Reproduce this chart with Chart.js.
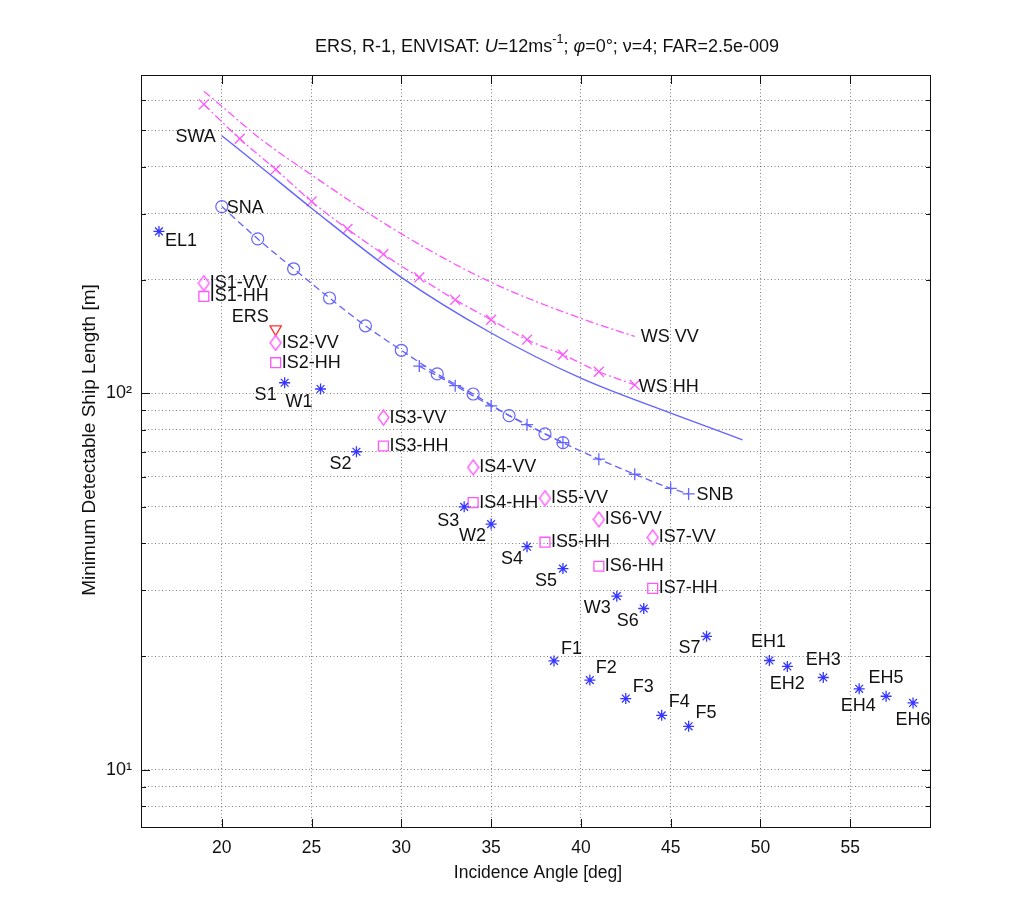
<!DOCTYPE html>
<html><head><meta charset="utf-8">
<script src="https://cdn.jsdelivr.net/npm/chart.js@4/dist/chart.umd.min.js"></script>
<style>html,body{margin:0;padding:0;background:#fff}</style>
</head><body>
<canvas id="c" width="1013" height="924"></canvas>
<script>
const FONT = '"Liberation Sans", Arial, sans-serif';

// ---- axes ----
const xTickValues = [20, 25, 30, 35, 40, 45, 50, 55];
const yGridValues = [8, 9, 10, 20, 30, 40, 50, 60, 70, 80, 90, 100, 200, 300, 400, 500, 600];
const yTickLabels = {10: '10\u00B9', 100: '10\u00B2'};

// ---- curves ----
const swaAngle  = [20, 22, 25, 30, 35, 40, 45, 49];
const swaLength = [483, 405, 310, 203, 144.5, 109.6, 88.5, 75.2];
const snaAngle  = [20, 22, 24, 26, 28, 30, 32, 34, 36, 38, 39];
const snaLength = [313, 257, 214, 179, 151, 130, 112.5, 99.5, 87.2, 78, 73.9];
const snbAngle  = [31, 33, 35, 37, 39, 41, 43, 45, 46];
const snbLength = [118, 104.7, 92.5, 82.5, 73.9, 66.8, 60.9, 55.9, 54.0];
const wsHHAngle  = [19, 21, 23, 25, 27, 29, 31, 33, 35, 37, 39, 41, 43];
const wsHHLength = [585, 474, 393, 323, 273, 234, 203, 177, 156.7, 138.7, 126.5, 114, 105.2];
const wsVVAngle  = [19, 20, 22, 25, 30, 35, 40, 43];
const wsVVLength = [634, 578, 480, 380, 265, 197, 158, 141.5];

// ---- individual modes ----
const starNames  = ['EL1','S1','W1','S2','S3','W2','S4','S5','W3','S6','S7','F1','F2','F3','F4','F5','EH1','EH2','EH3','EH4','EH5','EH6'];
const starAngle  = [16.5, 23.5, 25.5, 27.5, 33.5, 35, 37, 39, 42, 43.5, 47, 38.5, 40.5, 42.5, 44.5, 46, 50.5, 51.5, 53.5, 55.5, 57, 58.5];
const starLength = [269, 106.6, 102.6, 69.9, 49.9, 44.9, 39.1, 34.2, 28.9, 26.8, 22.6, 19.45, 17.3, 15.45, 13.94, 13.04, 19.5, 18.8, 17.57, 16.4, 15.67, 15.04];
const vvNames  = ['IS1-VV','IS2-VV','IS3-VV','IS4-VV','IS5-VV','IS6-VV','IS7-VV'];
const vvAngle  = [19, 23, 29, 34, 38, 41, 44];
const vvLength = [196, 136, 86.1, 63.5, 52.6, 46.2, 41.4];
const hhNames  = ['IS1-HH','IS2-HH','IS3-HH','IS4-HH','IS5-HH','IS6-HH','IS7-HH'];
const hhAngle  = [19, 23, 29, 34, 38, 41, 44];
const hhLength = [180.7, 120.5, 72.4, 51.2, 40.2, 34.7, 30.3];
const ersNames  = ['ERS'];
const ersAngle  = [23];
const ersLength = [148];

// ---- label placement (pixel offsets, style only) ----
const labelPlace = {
  'EL1':[6,10,'left'], 'SNA':[5,1,'left'], 'SWA':[-6,1,'right'], 'SNB':[8,1,'left'],
  'WS VV':[6,1,'left'], 'WS HH':[4,2,'left'], 'ERS':[-7,-12,'right'],
  'S1':[-8,12,'right'], 'W1':[-8,13,'right'], 'S2':[-5,12,'right'], 'S3':[-5,14,'right'],
  'W2':[-5,12,'right'], 'S4':[-4,12,'right'], 'S5':[-6,12,'right'], 'W3':[-6,12,'right'],
  'S6':[-5,13,'right'], 'S7':[-6,12,'right'],
  'F1':[7,-12,'left'], 'F2':[6,-12,'left'], 'F3':[7,-12,'left'], 'F4':[7,-13,'left'], 'F5':[7,-13,'left'],
  'EH1':[-1,-18,'center'], 'EH2':[0,18,'center'], 'EH3':[0,-17,'center'],
  'EH4':[-1,17,'center'], 'EH5':[0,-18,'center'], 'EH6':[0,17,'center']
};

const pts = (xs, ys) => xs.map((x, i) => ({x: x, y: ys[i]}));

const labelList = [];
starNames.forEach((n, i) => labelList.push([n, starAngle[i], starLength[i]]));
vvNames.forEach((n, i) => labelList.push([n, vvAngle[i], vvLength[i]]));
hhNames.forEach((n, i) => labelList.push([n, hhAngle[i], hhLength[i]]));
ersNames.forEach((n, i) => labelList.push([n, ersAngle[i], ersLength[i]]));
labelList.push(['SWA', swaAngle[0], swaLength[0]]);
labelList.push(['SNA', snaAngle[0], snaLength[0]]);
labelList.push(['SNB', snbAngle[snbAngle.length-1], snbLength[snbLength.length-1]]);
labelList.push(['WS VV', wsVVAngle[wsVVAngle.length-1], wsVVLength[wsVVLength.length-1]]);
labelList.push(['WS HH', wsHHAngle[wsHHAngle.length-1], wsHHLength[wsHHLength.length-1]]);

const BLUE_LINE = '#6464ff';
const BLUE_MARK = '#3636ff';
const MAG = '#ff55ff';

// tall diamond marker (MATLAB style)
const diamond = document.createElement('canvas');
diamond.width = 13; diamond.height = 17;
(function () {
  const g = diamond.getContext('2d');
  g.strokeStyle = MAG; g.lineWidth = 1.3;
  g.beginPath();
  g.moveTo(6.5, 1); g.lineTo(12, 8.5); g.lineTo(6.5, 16); g.lineTo(1, 8.5); g.closePath();
  g.stroke();
})();

const textPlugin = {
  id: 'texts',
  afterDatasetsDraw(chart) {
    const ctx = chart.ctx, xs = chart.scales.x, ys = chart.scales.y, ca = chart.chartArea;
    ctx.save();
    // frame
    ctx.strokeStyle = '#111'; ctx.lineWidth = 1; ctx.setLineDash([]);
    ctx.strokeRect(ca.left + 0.5, ca.top + 0.5, ca.right - ca.left - 1, ca.bottom - ca.top - 1);
    // inward ticks
    ctx.beginPath();
    xTickValues.forEach(v => {
      const px = Math.round(xs.getPixelForValue(v)) + 0.5;
      ctx.moveTo(px, ca.bottom); ctx.lineTo(px, ca.bottom - 9);
      ctx.moveTo(px, ca.top); ctx.lineTo(px, ca.top + 9);
    });
    yGridValues.forEach(v => {
      const py = Math.round(ys.getPixelForValue(v)) + 0.5;
      const len = (v === 10 || v === 100) ? 9 : 5;
      ctx.moveTo(ca.left, py); ctx.lineTo(ca.left + len, py);
      ctx.moveTo(ca.right, py); ctx.lineTo(ca.right - len, py);
    });
    ctx.stroke();
    // point labels
    ctx.fillStyle = '#111';
    ctx.font = '18px ' + FONT;
    ctx.textBaseline = 'middle';
    labelList.forEach(([name, x, y]) => {
      const p = labelPlace[name] || [6, 0, 'left'];
      ctx.textAlign = p[2];
      ctx.fillText(name, xs.getPixelForValue(x) + p[0], ys.getPixelForValue(y) + p[1]);
    });
    // axis titles
    ctx.textAlign = 'center';
    ctx.font = '17.5px ' + FONT;
    ctx.fillText('Incidence Angle [deg]', 538, 873);
    ctx.save();
    ctx.translate(90, 440);
    ctx.rotate(-Math.PI / 2);
    ctx.font = '19px ' + FONT;
    ctx.fillText('Minimum Detectable Ship Length [m]', 0, 0);
    ctx.restore();
    // title with mixed styles
    const segs = [
      ['ERS, R-1, ENVISAT: ', 'normal', 18, 0],
      ['U', 'italic', 18, 0],
      ['=12ms', 'normal', 18, 0],
      ['-1', 'normal', 12.5, -7],
      ['; ', 'normal', 18, 0],
      ['\u03C6', 'italic', 18, 0],
      ['=0\u00B0; ', 'normal', 18, 0],
      ['\u03BD', 'normal', 18, 0],
      ['=4; FAR=2.5e-009', 'normal', 18, 0]
    ];
    let total = 0;
    segs.forEach(s => { ctx.font = s[1] + ' ' + s[2] + 'px ' + FONT; total += ctx.measureText(s[0]).width; });
    let cx = 547 - total / 2;
    ctx.textAlign = 'left';
    segs.forEach(s => {
      ctx.font = s[1] + ' ' + s[2] + 'px ' + FONT;
      ctx.fillText(s[0], cx, 47 + s[3]);
      cx += ctx.measureText(s[0]).width;
    });
    ctx.restore();
  }
};

const whiteBg = {
  id: 'bg',
  beforeDraw(chart) {
    const ctx = chart.ctx;
    ctx.save(); ctx.fillStyle = '#fff'; ctx.fillRect(0, 0, chart.width, chart.height); ctx.restore();
  }
};

new Chart(document.getElementById('c'), {
  type: 'scatter',
  data: {
    datasets: [
      { label: 'SWA', data: pts(swaAngle, swaLength), showLine: true, pointRadius: 0,
        borderColor: BLUE_LINE, borderWidth: 1.4, cubicInterpolationMode: 'monotone', fill: false },
      { label: 'SNA', data: pts(snaAngle, snaLength), showLine: true, borderDash: [7, 4],
        borderColor: BLUE_LINE, borderWidth: 1.3, pointStyle: 'circle', pointRadius: 6,
        pointBorderColor: BLUE_LINE, pointBackgroundColor: 'rgba(0,0,0,0)', pointBorderWidth: 1.2,
        cubicInterpolationMode: 'monotone' },
      { label: 'SNB', data: pts(snbAngle, snbLength), showLine: true, borderDash: [7, 4],
        borderColor: BLUE_LINE, borderWidth: 1.3, pointStyle: 'cross', pointRadius: 6,
        pointBorderColor: BLUE_LINE, pointBorderWidth: 1.3, cubicInterpolationMode: 'monotone' },
      { label: 'WS HH', data: pts(wsHHAngle, wsHHLength), showLine: true, borderDash: [8, 3, 2, 3],
        borderColor: MAG, borderWidth: 1.3, pointStyle: 'crossRot', pointRadius: 7,
        pointBorderColor: MAG, pointBorderWidth: 1.3, cubicInterpolationMode: 'monotone' },
      { label: 'WS VV', data: pts(wsVVAngle, wsVVLength), showLine: true, borderDash: [8, 3, 2, 3],
        borderColor: MAG, borderWidth: 1.3, pointRadius: 0, cubicInterpolationMode: 'monotone' },
      { label: 'modes', data: pts(starAngle, starLength), showLine: false, pointStyle: 'star',
        pointRadius: 5.5, pointBorderColor: BLUE_MARK, pointBackgroundColor: BLUE_MARK, pointBorderWidth: 1.3 },
      { label: 'VV', data: pts(vvAngle, vvLength), showLine: false, pointStyle: diamond,
        pointRadius: 7 },
      { label: 'HH', data: pts(hhAngle, hhLength), showLine: false, pointStyle: 'rect',
        pointRadius: 7, pointBorderColor: MAG, pointBackgroundColor: 'rgba(0,0,0,0)', pointBorderWidth: 1.3 },
      { label: 'ERS', data: pts(ersAngle, ersLength), showLine: false, pointStyle: 'triangle',
        pointRotation: 180, pointRadius: 6.5, pointBorderColor: '#ff3030',
        pointBackgroundColor: 'rgba(0,0,0,0)', pointBorderWidth: 1.3 }
    ]
  },
  options: {
    responsive: false,
    animation: false,
    devicePixelRatio: 1,
    layout: { padding: { left: 0, right: 82, top: 75, bottom: 0 } },
    plugins: { legend: { display: false }, title: { display: false }, tooltip: { enabled: false } },
    scales: {
      x: {
        type: 'linear', min: 15.5, max: 59.5,
        afterFit: s => { s.height = 96; },
        afterBuildTicks: s => { s.ticks = xTickValues.map(v => ({ value: v })); },
        ticks: { autoSkip: false, maxRotation: 0, padding: 10, color: '#111',
                 font: { family: FONT, size: 17.5 }, callback: v => String(v) },
        grid: { color: 'rgba(0,0,0,0.5)', lineWidth: 1, drawTicks: false },
        border: { display: false, dash: [1, 2.5] }
      },
      y: {
        type: 'logarithmic', min: 7, max: 700,
        afterFit: s => { s.width = 141; },
        afterBuildTicks: s => { s.ticks = yGridValues.map(v => ({ value: v })); },
        ticks: { autoSkip: false, padding: 9, color: '#111',
                 font: { family: FONT, size: 18 }, callback: v => yTickLabels[v] || '' },
        grid: { color: 'rgba(0,0,0,0.5)', lineWidth: 1, drawTicks: false },
        border: { display: false, dash: [1, 2.5] }
      }
    }
  },
  plugins: [whiteBg, textPlugin]
});
</script>
</body></html>
